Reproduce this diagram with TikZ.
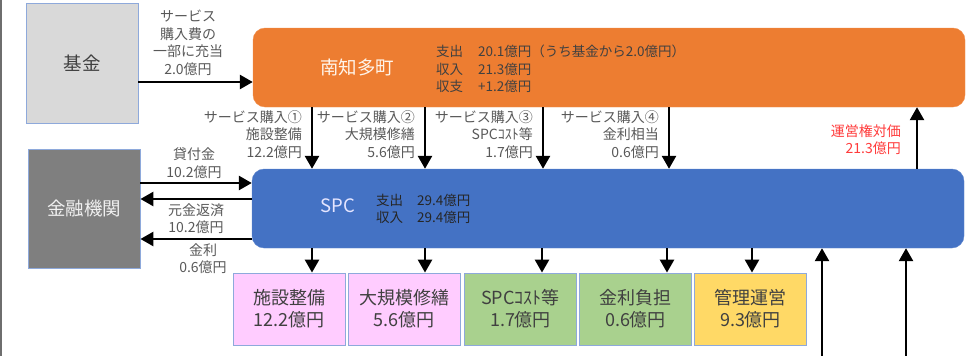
\documentclass[tikz,border=0pt]{standalone}
\usepackage{fontspec}
\setmainfont{Noto Sans CJK JP}
\usetikzlibrary{arrows.meta}
\definecolor{orangebox}{HTML}{ED7D31}
\definecolor{bluebox}{HTML}{4472C4}
\definecolor{lightgraybox}{HTML}{D9D9D9}
\definecolor{darkgraybox}{HTML}{7F7F7F}
\definecolor{pinkbox}{HTML}{FFCCFF}
\definecolor{greenbox}{HTML}{A9D18E}
\definecolor{yellowbox}{HTML}{FFD966}
\definecolor{boxedge}{HTML}{8EA9DB}
\definecolor{labgray}{HTML}{595959}
\definecolor{boxtext}{HTML}{404040}
\definecolor{redlab}{HTML}{FF3B3B}
\definecolor{edgegray}{HTML}{6E6E6E}
\begin{document}
\begin{tikzpicture}[x=1pt,y=-1pt,
  sqbox/.style={draw=boxedge, line width=0.8pt, inner sep=0pt, align=center,
    font=\fontsize{18}{22}\selectfont, text=boxtext},
  smallbox/.style={sqbox, minimum width=112pt, minimum height=72pt},
  bigbox/.style={rounded corners=12pt, minimum width=712pt, minimum height=79pt, inner sep=0pt},
  arr/.style={line width=2.6pt, -{Triangle[width=14pt,length=13pt]}},
  lab/.style={font=\fontsize{14}{17.5}\selectfont, text=labgray, inner sep=0pt},
  intext/.style={font=\fontsize{13.5}{17.5}\selectfont, inner sep=0pt, align=left},
  title/.style={font=\fontsize{18.5}{22}\selectfont, inner sep=0pt}]
\useasboundingbox (0,0) rectangle (967,356);
\draw[edgegray, line width=2pt] (1,0) -- (1,356);

% main boxes
\node[sqbox, fill=lightgraybox, draw=boxedge, minimum width=112pt, minimum height=120pt, font=\fontsize{18.5}{22}\selectfont] (kikin) at (82,63) {基金};
\node[sqbox, fill=darkgraybox, draw=boxedge, minimum width=112pt, minimum height=119pt, text=white!88!gray, font=\fontsize{18.5}{22}\selectfont] (kinyu) at (84,208.5) {金融機関};
\node[bigbox, fill=orangebox, draw=orangebox!85!white] (minami) at (609,67.5) {};
\node[bigbox, fill=bluebox, draw=bluebox!85!white] (spc) at (608,208.5) {};

\node[title, text=white!92!orange] (minamit) at (357,67) {南知多町};
\node[intext, text=boxtext, anchor=west] (minamid) at (436,69) {支出\hspace{15pt}20.1億円（うち基金から2.0億円）\\収入\hspace{15pt}21.3億円\\収支\hspace{15pt}+1.2億円};
\node[title, text=white!90!blue] (spct) at (338,206) {SPC};
\node[intext, text=black!85, anchor=west] (spcd) at (376,209) {支出\hspace{14pt}29.4億円\\収入\hspace{14pt}29.4億円};

% bottom boxes
\node[smallbox, fill=pinkbox] (b1) at (289,309) {施設整備\\12.2億円};
\node[smallbox, fill=pinkbox] (b2) at (404,309) {大規模修繕\\5.6億円};
\node[smallbox, fill=greenbox] (b3) at (520.5,309) {SPCｺｽﾄ等\\1.7億円};
\node[smallbox, fill=greenbox] (b4) at (635.5,309) {金利負担\\0.6億円};
\node[smallbox, fill=yellowbox] (b5) at (750.5,309) {管理運営\\9.3億円};

% fund to town
\draw[arr] (kikin.east |- 0,82) -- (minami.west |- 0,82);
\node[lab, align=center] (l0) at (188,43) {サービス\\購入費の\\一部に充当\\2.0億円};

% town to SPC
\draw[arr] (312,0 |- minami.south) -- (312,0 |- spc.north);
\draw[arr] (425,0 |- minami.south) -- (425,0 |- spc.north);
\draw[arr] (543,0 |- minami.south) -- (543,0 |- spc.north);
\draw[arr] (669,0 |- minami.south) -- (669,0 |- spc.north);
\node[lab, align=right, anchor=east] (l1) at (302,134.5) {サービス購入①\\施設整備\\12.2億円};
\node[lab, align=right, anchor=east] (l2) at (415,134.5) {サービス購入②\\大規模修繕\\5.6億円};
\node[lab, align=right, anchor=east] (l3) at (533,134.5) {サービス購入③\\SPCｺｽﾄ等\\1.7億円};
\node[lab, align=right, anchor=east] (l4) at (659,134.5) {サービス購入④\\金利相当\\0.6億円};

% SPC to town
\draw[arr] (917,0 |- spc.north) -- (917,0 |- minami.south);
\node[lab, align=right, anchor=east, text=redlab] (l5) at (901,139.5) {運営権対価\\21.3億円};

% bank <-> SPC
\draw[arr] (kinyu.east |- 0,183) -- (spc.west |- 0,183);
\draw[arr] (spc.west |- 0,199) -- (kinyu.east |- 0,199);
\draw[arr] (spc.west |- 0,239) -- (kinyu.east |- 0,239);
\node[lab, align=center] (l6) at (194,163) {貸付金\\10.2億円};
\node[lab, align=center] (l7) at (196,218.5) {元金返済\\10.2億円};
\node[lab, align=center] (l8) at (203,258.5) {金利\\0.6億円};

% SPC to bottom boxes
\draw[arr] (312,0 |- spc.south) -- (312,0 |- b1.north);
\draw[arr] (425,0 |- spc.south) -- (425,0 |- b2.north);
\draw[arr] (542,0 |- spc.south) -- (542,0 |- b3.north);
\draw[arr] (667,0 |- spc.south) -- (667,0 |- b4.north);
\draw[arr] (752,0 |- spc.south) -- (752,0 |- b5.north);

% incoming from below
\coordinate (in1) at (822,356);
\coordinate (in2) at (906,356);
\draw[arr] (in1) -- (in1 |- spc.south);
\draw[arr] (in2) -- (in2 |- spc.south);
\end{tikzpicture}
\end{document}
